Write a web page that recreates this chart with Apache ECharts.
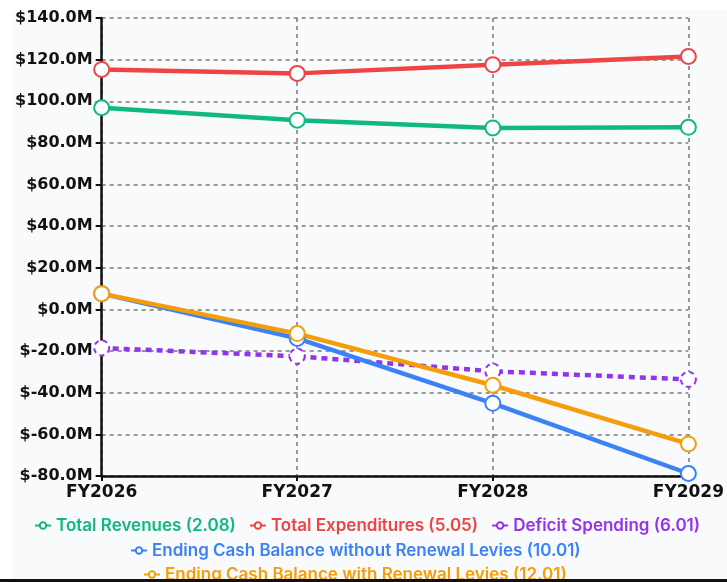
<!DOCTYPE html>
<html>
<head>
<meta charset="utf-8">
<script src="https://cdn.jsdelivr.net/npm/echarts@6/dist/echarts.min.js"></script>
<style>
  html, body { margin: 0; padding: 0; background: #fff; }
  #wrap { position: absolute; left: 12px; top: 10px; width: 715px; height: 569px; background: #f9fafb; }
  #lineChart { width: 100%; height: 100%; }
  #bar { position: absolute; left: 0; top: 579px; width: 727px; height: 3px; background: #111; }
</style>
</head>
<body>
<div id="wrap"><div id="lineChart"></div></div>
<div id="bar"></div>
<script>
// 数据
const years = ['FY2026', 'FY2027', 'FY2028', 'FY2029']
const totalRevenues = [96.9, 90.9, 87.2, 87.5]
const totalExpenditures = [115.3, 113.4, 117.6, 121.5]
const deficitSpending = [-18.5, -22.5, -29.7, -33.6]
const cashWithoutLevies = [7.6, -13.9, -45.1, -78.8]
const cashWithLevies = [7.6, -11.6, -36.4, -64.6]
const seriesNames = [
  'Total Revenues (2.08)',
  'Total Expenditures (5.05)',
  'Deficit Spending (6.01)',
  'Ending Cash Balance without Renewal Levies (10.01)',
  'Ending Cash Balance with Renewal Levies (12.01)'
]
const colors = ['#10b981', '#ef4444', '#9333ea', '#3b82f6', '#f59e0b']

const chart = echarts.init(document.getElementById('lineChart'))

function lineSeries(idx, data, extra) {
  return Object.assign({
    name: seriesNames[idx],
    type: 'line',
    data: data,
    symbol: 'emptyCircle',
    symbolSize: 15,
    lineStyle: { width: 4.5, color: colors[idx] },
    itemStyle: { color: colors[idx], borderColor: colors[idx], borderWidth: 2.5 },
    emphasis: { disabled: true }
  }, extra || {})
}

// 图例 - 每行单独放
function legendRow(names, left, top) {
  return {
    top: top,
    left: left,
    itemWidth: 16,
    itemHeight: 8,
    itemGap: 13,
    textStyle: { fontFamily: 'Inter', fontWeight: 600, fontSize: 17 },
    data: names.map(n => ({ name: n, textStyle: { color: colors[seriesNames.indexOf(n)] } }))
  }
}

chart.setOption({
  animation: false,
  color: colors,
  grid: { left: 87, right: 36, top: 5, bottom: 103 },
  xAxis: {
    type: 'category',
    boundaryGap: false,
    data: years,
    axisLine: { onZero: false, lineStyle: { color: '#111', width: 2.5 } },
    axisTick: { show: true, length: 5, lineStyle: { color: '#111', width: 2 } },
    axisLabel: { color: '#111', fontFamily: 'DejaVu Sans', fontWeight: 'bold', fontSize: 17, margin: 8 },
    splitLine: { show: true, lineStyle: { color: '#777', width: 1.5, type: [4, 4] } }
  },
  yAxis: {
    type: 'value',
    min: -80,
    max: 140,
    interval: 20,
    axisLine: { show: true, lineStyle: { color: '#111', width: 2.5 } },
    axisTick: { show: true, length: 6, lineStyle: { color: '#111', width: 2 } },
    axisLabel: {
      color: '#111', fontFamily: 'DejaVu Sans', fontWeight: 'bold', fontSize: 16, margin: 9,
      formatter: v => '$' + v.toFixed(1) + 'M'
    },
    splitLine: { show: true, lineStyle: { color: '#777', width: 1.5, type: [4, 4] } }
  },
  legend: [
    legendRow(seriesNames.slice(0, 3), 17, 502),
    legendRow(seriesNames.slice(3, 4), 113, 527),
    legendRow(seriesNames.slice(4, 5), 126, 551)
  ],
  series: [
    lineSeries(0, totalRevenues),
    lineSeries(1, totalExpenditures),
    lineSeries(2, deficitSpending, {
      lineStyle: { width: 4.5, color: colors[2], type: [6, 5] },
      itemStyle: { color: colors[2], borderColor: colors[2], borderWidth: 2.5, borderType: [5, 4] }
    }),
    lineSeries(3, cashWithoutLevies),
    lineSeries(4, cashWithLevies)
  ]
})
</script>
</body>
</html>
